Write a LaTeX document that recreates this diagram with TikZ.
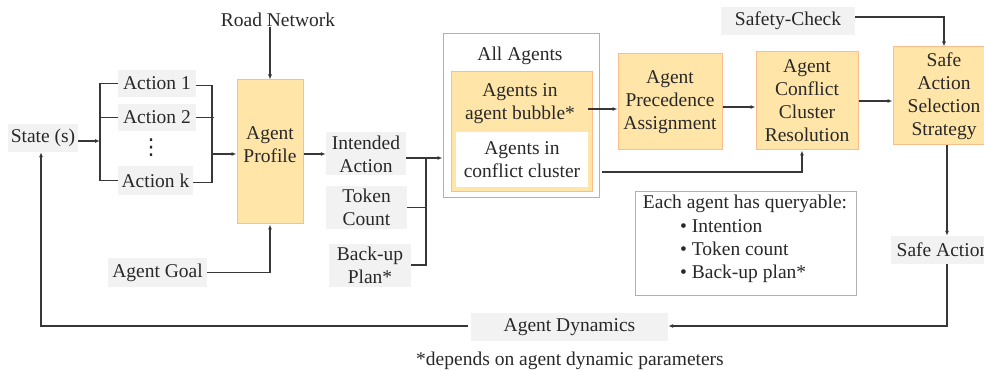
\documentclass[tikz,border=0pt]{standalone}
\usepackage{fontspec}
\setmainfont{Liberation Serif}
\newfontfamily\dotsfont{DejaVu Sans}
\usetikzlibrary{arrows.meta}

\definecolor{boxgray}{RGB}{242,242,242}
\definecolor{orfill}{RGB}{255,229,168}
\definecolor{orline}{RGB}{249,190,140}
\definecolor{frameg}{RGB}{176,176,176}
\definecolor{linec}{RGB}{55,55,55}
\definecolor{txt}{RGB}{40,40,40}

\tikzset{
  lbl/.style={inner sep=0pt, align=center, text=txt,
    font=\fontsize{19.5}{23}\selectfont},
  gbox/.style={lbl, fill=boxgray, draw=none},
  obox/.style={lbl, fill=orfill, draw=orline, line width=1pt},
  frame/.style={lbl, fill=white, draw=frameg, line width=1pt},
  conn/.style={draw=linec, line width=1.2pt},
  arr/.style={conn, -{Latex[length=5pt,width=4pt]}},
}

\begin{document}
\begin{tikzpicture}[x=1pt, y=-1pt]
\useasboundingbox (0,0) rectangle (984,371);

% --- left part: state, candidate actions, agent profile
\node[gbox, minimum width=70pt, minimum height=28pt] (state) at (43,138) {State (s)};
\node[gbox, minimum width=78pt, minimum height=27pt] (a1) at (157,83.5) {Action 1};
\node[gbox, minimum width=78pt, minimum height=27pt] (a2) at (157,117.5) {Action 2};
\node[lbl, font=\dotsfont\fontsize{22}{22}\selectfont] (dots) at (151,148) {⋮};
\node[gbox, minimum width=75pt, minimum height=29pt] (ak) at (155.5,180.5) {Action k};
\node[lbl] (road) at (278,20) {Road Network};
\node[obox, minimum width=66pt, minimum height=144pt] (prof) at (270,152) {};
\node[lbl] (proft) at (270,145) {Agent\\Profile};
\node[gbox, minimum width=99pt, minimum height=29pt] (goal) at (157.5,272.5) {Agent Goal};

% --- agent attributes
\node[gbox, minimum width=80pt, minimum height=43pt] (intent) at (366,154) {Intended\\Action};
\node[gbox, minimum width=81pt, minimum height=43pt] (token) at (366.5,207.5) {Token\\Count};
\node[gbox, minimum width=82pt, minimum height=43pt] (backup) at (370,265) {Back-up\\Plan*};

% --- agent sets
\node[frame, minimum width=156pt, minimum height=164pt] (all) at (521,116) {};
\node[lbl] (allt) at (520,56) {All Agents};
\node[obox, minimum width=141pt, minimum height=120pt] (bubble) at (521.5,132) {};
\node[lbl] (bubt) at (520,104) {Agents in\\agent bubble*};
\node[lbl, fill=white, minimum width=132pt, minimum height=55pt] (cc) at (522,159.5) {Agents in\\conflict cluster};

% --- processing chain
\node[obox, minimum width=104pt, minimum height=96pt] (apa) at (670,102) {Agent\\Precedence\\Assignment};
\node[obox, minimum width=102pt, minimum height=98pt] (accr) at (807,101) {Agent\\Conflict\\Cluster\\Resolution};
\node[obox, minimum width=102pt, minimum height=98pt] (sass) at (944,96) {Safe\\Action\\Selection\\Strategy};
\node[gbox, minimum width=134pt, minimum height=28pt] (safety) at (788,21) {Safety-Check};
\node[gbox, minimum width=104pt, minimum height=28pt] (safe) at (943,250) {Safe Action};
\node[gbox, minimum width=197pt, minimum height=28pt] (dyn) at (569.5,327) {Agent Dynamics};

% --- legend
\node[frame, minimum width=221pt, minimum height=103pt] (each) at (745.5,243.5) {};
\node[lbl] (eacht) at (745,204) {Each agent has queryable:};
\node[lbl, align=left, anchor=west] (items) at (680,251)
  {\textbullet\ Intention\\\textbullet\ Token count\\\textbullet\ Back-up plan*};

\node[lbl] (foot) at (570,361) {*depends on agent dynamic parameters};

% --- connectors: state to actions
\coordinate (bl) at (100,141);
\draw[arr] ([yshift=-3pt]state.east) -- (bl);
\draw[conn] (a1.west) -- (a1.west -| bl) -- (ak.west -| bl) -- (ak.west);
\draw[conn] (a2.west -| bl) -- (a2.west);

% actions to profile
\coordinate (br) at (212,154);
\draw[conn] ([yshift=-2pt]a1.east) -- ([yshift=-2pt]a1.east -| br) -- ([yshift=-2pt]ak.east -| br) -- ([yshift=-2pt]ak.east);
\draw[conn] (a2.east) -- ([xshift=2pt]a2.east -| br);
\draw[arr] (br) -- (prof.west |- br);

\draw[arr] (road.south -| prof.north) -- (prof.north);
\draw[arr] (goal.east) -| (prof.south);
\draw[arr] (prof.east |- intent.west) -- (intent.west);

% attributes to agent sets
\coordinate (ib) at (426,158);
\draw[arr] (intent.east |- ib) -- (all.west |- ib);
\draw[conn] (ib) |- (backup.east);
\draw[conn] (token.east) -- (token.east -| ib);

% agent sets to chain
\coordinate (bub) at (588,109);
\draw[arr] (bub) -- (bub -| apa.west);
\draw[arr] ([yshift=-5pt]apa.east) -- ([yshift=-5pt]apa.east -| accr.west);
\coordinate (ccout) at (602,172);
\draw[arr] (ccout) -| ([xshift=-5pt]accr.south);
\draw[arr] (accr.east) -- (accr.east -| sass.west);
\draw[arr] ([yshift=4pt]safety.east) -| (sass.north);
\draw[arr] ([xshift=3pt]sass.south) -- ([xshift=3pt]sass.south |- safe.north);

% feedback loop
\draw[arr] ([xshift=4pt]safe.south) |- ([yshift=1pt]dyn.east);
\draw[arr] ([xshift=-3pt,yshift=1pt]dyn.west) -| ([xshift=-2pt]state.south);
\end{tikzpicture}
\end{document}
